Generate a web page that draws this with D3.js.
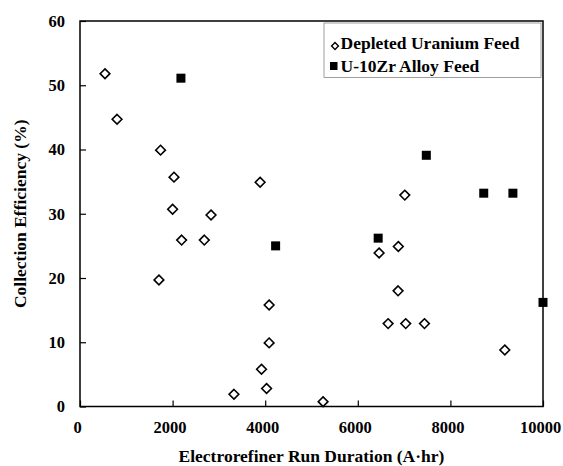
<!DOCTYPE html>
<html lang="en">
<head>
<meta charset="UTF-8">
<title>Collection Efficiency</title>
<script src="https://cdn.jsdelivr.net/npm/d3@7"></script>
<style>
  body { margin: 0; background: #fff; }
  text { font-family: "Liberation Serif", "Times New Roman", serif; font-weight: bold; fill: #000; }
</style>
</head>
<body>
<script>
// depleted uranium feed runs
var duRun = [540, 800, 1740, 2030, 2000, 2830, 3890, 2195, 2685, 1705, 4085, 4085, 3920, 4030, 3325,
             5250, 6460, 6875, 6870, 6655, 7035, 7440, 9175, 7015];
var duEff = [51.8, 44.7, 39.9, 35.7, 30.7, 29.8, 34.9, 25.9, 25.9, 19.7, 15.8, 9.9, 5.8, 2.8, 1.9,
             0.75, 23.9, 24.9, 18.0, 12.9, 12.9, 12.9, 8.8, 32.9];
// U-10Zr alloy feed runs
var zrRun = [2180, 7480, 8720, 9350, 4225, 6440, 10000];
var zrEff = [51.1, 39.1, 33.2, 33.2, 25.0, 26.2, 16.2];

var xTicks = [0, 2000, 4000, 6000, 8000, 10000];
var yTicks = [0, 10, 20, 30, 40, 50, 60];
var seriesNames = ["Depleted Uranium Feed", "U-10Zr Alloy Feed"];

var w = 563, h = 466;
var margin = {left: 80, right: 20, top: 21, bottom: 60};

var svg = d3.select("body").append("svg")
    .attr("width", w)
    .attr("height", h);

var x = d3.scaleLinear().domain([0, 10000]).range([margin.left, 543]);
var y = d3.scaleLinear().domain([0, 60]).range([406.5, margin.top]);

// frame
svg.append("rect")
    .attr("x", x(0)).attr("y", y(60))
    .attr("width", x(10000) - x(0)).attr("height", y(0) - y(60))
    .attr("fill", "none").attr("stroke", "#000").attr("stroke-width", 1.5);

var xAxis = svg.append("g")
    .attr("transform", "translate(0," + y(0) + ")")
    .call(d3.axisBottom(x).tickValues(xTicks).tickSize(-6).tickPadding(14).tickFormat(d3.format("d")));
var yAxis = svg.append("g")
    .attr("transform", "translate(" + x(0) + ",0)")
    .call(d3.axisLeft(y).tickValues(yTicks).tickSize(-6).tickPadding(15));

[xAxis, yAxis].forEach(function(g) {
    g.select(".domain").remove();
    g.selectAll("line").attr("stroke", "#000").attr("stroke-width", 1.2);
    g.selectAll("text").attr("font-size", 16.5).attr("font-family", null);
});
xAxis.selectAll("text").attr("dy", null).attr("y", 26.5).attr("x", -3);

// axis titles
svg.append("text")
    .attr("x", (x(0) + x(10000)) / 2).attr("y", 462)
    .attr("text-anchor", "middle").attr("font-size", 17.5)
    .text("Electrorefiner Run Duration (A\u00b7hr)");
svg.append("text")
    .attr("transform", "translate(26," + ((y(0) + y(60)) / 2) + ") rotate(-90)")
    .attr("text-anchor", "middle").attr("font-size", 17.5)
    .text("Collection Efficiency (%)");

var diamond = d3.symbol().type(d3.symbolDiamond2).size(60);

svg.selectAll("path.du")
    .data(d3.range(duRun.length))
    .enter().append("path")
    .attr("class", "du")
    .attr("d", diamond)
    .attr("transform", function(i) { return "translate(" + x(duRun[i]) + "," + y(duEff[i]) + ")"; })
    .attr("fill", "#fff").attr("stroke", "#000").attr("stroke-width", 1.6);

svg.selectAll("rect.zr")
    .data(d3.range(zrRun.length))
    .enter().append("rect")
    .attr("class", "zr")
    .attr("x", function(i) { return x(zrRun[i]) - 4.5; })
    .attr("y", function(i) { return y(zrEff[i]) - 4.5; })
    .attr("width", 9).attr("height", 9)
    .attr("fill", "#000");

// legend
var lg = svg.append("g");
lg.append("rect")
    .attr("x", 324).attr("y", 23).attr("width", 217).attr("height", 54.5)
    .attr("fill", "#fff").attr("stroke", "#888").attr("stroke-width", 0.8);
lg.append("path")
    .attr("d", d3.symbol().type(d3.symbolDiamond2).size(30))
    .attr("transform", "translate(335,46)")
    .attr("fill", "#fff").attr("stroke", "#000").attr("stroke-width", 1.4);
lg.append("rect")
    .attr("x", 330).attr("y", 62).attr("width", 7.5).attr("height", 8).attr("fill", "#000");
lg.selectAll("text.leg")
    .data(seriesNames)
    .enter().append("text")
    .attr("class", "leg")
    .attr("x", 340.5).attr("y", function(d, i) { return 48.5 + i * 23.5; })
    .attr("font-size", 17.5)
    .text(function(d) { return d; });
</script>
</body>
</html>
